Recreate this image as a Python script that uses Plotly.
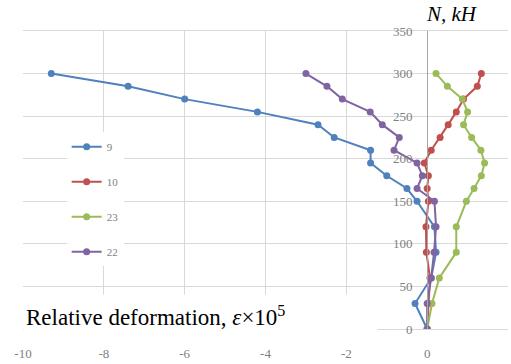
import plotly.graph_objects as go

# Load levels N, kH
levels = [0, 30, 60, 90, 120, 150, 165, 180, 195, 210, 225, 240, 255, 270, 285, 300]

# Relative deformation x10^5 per gauge
s9 = [0, -0.3, 0.1, 0.22, 0.18, -0.25, -0.5, -1.0, -1.4, -1.4, -2.3, -2.7, -4.2, -6.0, -7.4, -9.3]
s10 = [0, 0.03, 0.07, -0.02, -0.03, 0.03, 0.0, 0.03, -0.07, 0.1, 0.32, 0.52, 0.72, 0.9, 1.24, 1.34]
s23 = [0, 0.12, 0.3, 0.72, 0.72, 0.97, 1.16, 1.34, 1.42, 1.33, 1.1, 0.9, 1.0, 0.87, 0.5, 0.22]
s22 = [0, 0.0, 0.1, 0.17, 0.22, 0.18, -0.25, -0.12, -0.25, -0.82, -0.69, -1.11, -1.41, -2.1, -2.48, -3.0]

series_names = ["9", "10", "23", "22"]
series_vals = [s9, s10, s23, s22]
colors = ["#4F81BD", "#C0504D", "#9BBB59", "#8064A2"]

x_ticks = [-10, -8, -6, -4, -2, 0, 2]
x_tick_text = ["-10", "-8", "-6", "-4", "-2", "0", "2"]
y_ticks = [0, 50, 100, 150, 200, 250, 300, 350]

fig = go.Figure()
for name, vals, c in zip(series_names, series_vals, colors):
    fig.add_trace(go.Scatter(
        x=vals, y=levels, name=name, mode="lines+markers", legendgroup=name,
        line=dict(color=c, width=2),
        marker=dict(color=c, size=7, symbol="circle"),
    ))

serif = "Liberation Serif, Times New Roman, serif"

fig.update_layout(
    width=511, height=364,
    margin=dict(l=23, r=3, t=31, b=35),
    paper_bgcolor="white", plot_bgcolor="white",
    showlegend=True,
    legend=dict(
        x=0.09, y=0.66, xanchor="left", yanchor="top",
        bgcolor="white", borderwidth=0,
        font=dict(family=serif, size=11, color="#7f7f7f"),
        tracegroupgap=16, traceorder="grouped",
        itemwidth=30,
    ),
    xaxis=dict(
        range=[-10, 2], tickvals=x_ticks, ticktext=x_tick_text,
        showgrid=True, gridcolor="#d9d9d9", gridwidth=1,
        zeroline=False, showline=True, mirror=True, linecolor="#d9d9d9",
        ticks="outside", ticklen=12, tickcolor="rgba(0,0,0,0)",
        tickfont=dict(family=serif, size=13, color="#808080"),
    ),
    yaxis=dict(
        range=[0, 350], tickvals=y_ticks,
        showgrid=True, gridcolor="#d9d9d9", gridwidth=1,
        zeroline=False, showline=True, linecolor="#a6a6a6",
        anchor="free", position=10 / 12, side="left",
        ticks="outside", ticklen=12, tickcolor="rgba(0,0,0,0)",
        tickfont=dict(family=serif, size=13, color="#808080"),
    ),
    annotations=[
        dict(
            text="<i>N, kH</i>", xref="paper", yref="paper",
            x=0.885, y=1.0, xanchor="center", yanchor="bottom", yshift=3,
            showarrow=False, font=dict(family=serif, size=21, color="black"),
        ),
        dict(
            text="Relative deformation, <i>ε</i>×10<sup>5</sup>",
            xref="paper", yref="paper",
            x=0.0, y=(329 - 294) / 298, xanchor="left", yanchor="top",
            width=349, height=38, align="left", valign="middle",
            bgcolor="white", borderpad=2, showarrow=False,
            font=dict(family=serif, size=23, color="black"),
        ),
    ],
)

fig.write_html("out.html")
